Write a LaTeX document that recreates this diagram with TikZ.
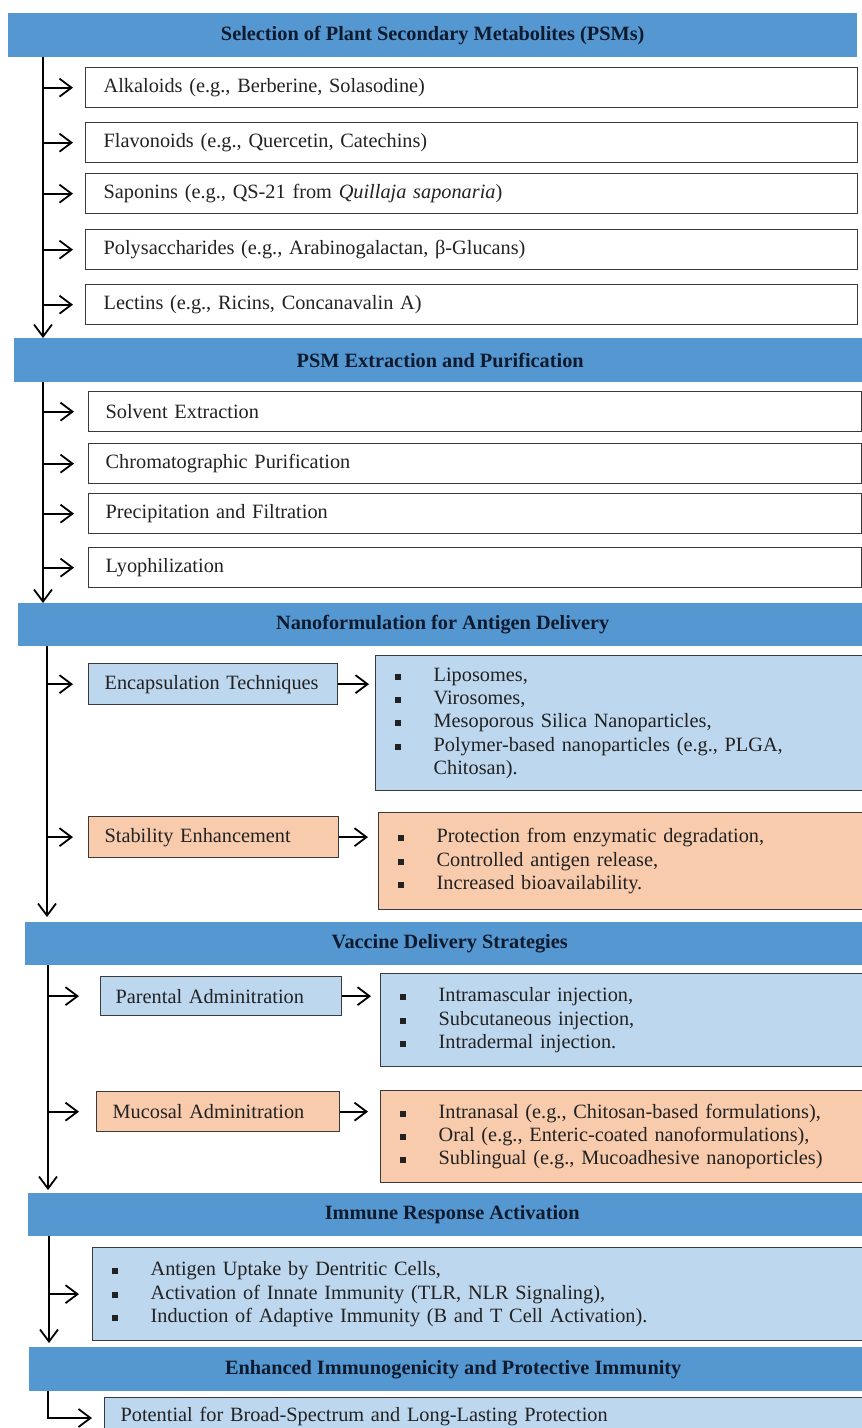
\documentclass[tikz,border=0pt]{standalone}
\usepackage{fontspec}
\setmainfont{Liberation Serif}
\usetikzlibrary{arrows.meta}
\frenchspacing

\definecolor{hdrblue}{HTML}{5597D0}
\definecolor{paleblue}{HTML}{BDD7EE}
\definecolor{peach}{HTML}{F8CBAD}
\definecolor{navy}{HTML}{0E1A2E}
\definecolor{ink}{HTML}{222222}
\definecolor{edge}{HTML}{3A3A3A}

% square bullet followed by the indent of the list text
\newcommand\sqb{\makebox[39pt][l]{\raisebox{1.5pt}{\rule{6pt}{6pt}}}}
\newcommand\hangin{\hspace*{39pt}}

\tikzset{
  hdr/.style={fill=hdrblue, draw=none, anchor=north west, inner sep=0pt,
    font=\bfseries\fontsize{20.3}{24}\selectfont, text=navy},
  bodyfont/.style={font=\frenchspacing\fontsize{20.3}{23.3}\selectfont, text=ink},
  itembox/.style={draw=edge, line width=1.3pt, anchor=north west,
    inner xsep=0pt, inner ysep=1pt, align=left, bodyfont},
  pbox/.style n args={3}{itembox, text width=#1pt, minimum height=#2pt,
    execute at begin node={\hspace*{#3pt}}},
  listbox/.style 2 args={draw=edge, line width=1.3pt, anchor=north west,
    inner xsep=19pt, inner ysep=1pt, align=left, bodyfont,
    text width=#1pt, minimum height=#2pt},
  arr/.style={draw=black, line width=1.8pt,
    -{Straight Barb[length=12pt,width=18pt]}},
}

\begin{document}
\begin{tikzpicture}[x=1pt,y=-1pt]
\useasboundingbox (0,0) rectangle (862,1428);
\clip (0,0) rectangle (862,1428);
\fill[white] (0,0) rectangle (862,1428);

% ---------- Section 1 ----------
\node[hdr, minimum width=849pt, minimum height=44pt] (h1) at (8,13)
  {Selection of Plant Secondary Metabolites (PSMs)};
\node[pbox={772}{40}{18}, fill=white] (a1) at (85,67)
  {Alkaloids (e.g., Berberine, Solasodine)};
\node[pbox={772}{40}{18}, fill=white] (a2) at (85,122)
  {Flavonoids (e.g., Quercetin, Catechins)};
\node[pbox={772}{40}{18}, fill=white] (a3) at (85,173)
  {Saponins (e.g., QS-21 from \textit{Quillaja saponaria})};
\node[pbox={772}{40}{18}, fill=white] (a4) at (85,229)
  {Polysaccharides (e.g., Arabinogalactan, β-Glucans)};
\node[pbox={772}{40}{18}, fill=white] (a5) at (85,284)
  {Lectins (e.g., Ricins, Concanavalin A)};

% ---------- Section 2 ----------
\node[hdr, minimum width=852pt, minimum height=44pt] (h2) at (14,338)
  {PSM Extraction and Purification};
\node[pbox={773}{40}{17}, fill=white] (b1) at (88,391) {Solvent Extraction};
\node[pbox={773}{40}{17}, fill=white] (b2) at (88,443) {Chromatographic Purification};
\node[pbox={773}{40}{17}, fill=white] (b3) at (88,493) {Precipitation and Filtration};
\node[pbox={773}{40}{17}, fill=white] (b4) at (88,547) {Lyophilization};

% ---------- Section 3 ----------
\node[hdr, minimum width=849pt, minimum height=43pt] (h3) at (18,603)
  {Nanoformulation for Antigen Delivery};
\node[pbox={249}{41}{16}, fill=paleblue] (c1) at (88,663) {Encapsulation Techniques};
\node[listbox={457}{135}, fill=paleblue] (c1l) at (375,655)
  {\sqb Liposomes,\\
   \sqb Virosomes,\\
   \sqb Mesoporous Silica Nanoparticles,\\
   \sqb Polymer-based nanoparticles (e.g., PLGA,\\
   \hangin Chitosan).};
\node[pbox={250}{41}{16}, fill=peach] (c2) at (88,816) {Stability Enhancement};
\node[listbox={454}{97}, fill=peach] (c2l) at (378,812)
  {\sqb Protection from enzymatic degradation,\\
   \sqb Controlled antigen release,\\
   \sqb Increased bioavailability.};

% ---------- Section 4 ----------
\node[hdr, minimum width=849pt, minimum height=43pt] (h4) at (25,922)
  {Vaccine Delivery Strategies};
\node[pbox={241}{39}{15}, fill=paleblue] (d1) at (100,976) {Parental Adminitration};
\node[listbox={452}{93}, fill=paleblue] (d1l) at (380,973)
  {\sqb Intramascular injection,\\
   \sqb Subcutaneous injection,\\
   \sqb Intradermal injection.};
\node[pbox={243}{40}{16}, fill=peach] (d2) at (96,1091) {Mucosal Adminitration};
\node[listbox={452}{92}, fill=peach] (d2l) at (380,1090)
  {\sqb Intranasal (e.g., Chitosan-based formulations),\\
   \sqb Oral (e.g., Enteric-coated nanoformulations),\\
   \sqb Sublingual (e.g., Mucoadhesive nanoporticles)};

% ---------- Section 5 ----------
\node[hdr, minimum width=848pt, minimum height=43pt] (h5) at (28,1193)
  {Immune Response Activation};
\node[listbox={740}{93}, fill=paleblue] (e1) at (92,1247)
  {\sqb Antigen Uptake by Dentritic Cells,\\
   \sqb Activation of Innate Immunity (TLR, NLR Signaling),\\
   \sqb Induction of Adaptive Immunity (B and T Cell Activation).};

% ---------- Section 6 ----------
\node[hdr, minimum width=848pt, minimum height=44pt] (h6) at (29,1347)
  {Enhanced Immunogenicity and Protective Immunity};
\node[pbox={770}{38}{16}, fill=paleblue] (f1) at (104,1397)
  {Potential for Broad-Spectrum and Long-Lasting Protection};

% ---------- spines and connectors ----------
\coordinate (s1) at (43,57);
\coordinate (s2) at (43,382);
\coordinate (s3) at (47,646);
\coordinate (s4) at (48,965);
\coordinate (s5) at (49,1236);
\coordinate (s6) at (48,1391);
\coordinate (s6c) at (48,1418);

\draw[arr] (s1) -- (s1 |- h2.north);
\foreach \n in {a1,a2,a3,a4,a5}
  \draw[arr, shorten >=12pt] (s1 |- \n.west) -- (\n.west);

\draw[arr] (s2) -- (s2 |- h3.north);
\foreach \n in {b1,b2,b3,b4}
  \draw[arr, shorten >=14pt] (s2 |- \n.west) -- (\n.west);

\draw[arr] (s3) -- ([yshift=5pt]s3 |- h4.north);
\draw[arr, shorten >=15pt] (s3 |- c1.west) -- (c1.west);
\draw[arr, shorten >=15pt] (s3 |- c2.west) -- (c2.west);
\draw[arr, shorten >=6pt] (c1.east) -- (c1.east -| c1l.west);
\draw[arr, shorten >=10pt] (c2.east) -- (c2.east -| c2l.west);

\draw[arr] (s4) -- ([yshift=3pt]s4 |- h5.north);
\draw[arr, shorten >=21pt] (s4 |- d1.west) -- (d1.west);
\draw[arr, shorten >=17pt] (s4 |- d2.west) -- (d2.west);
\draw[arr, shorten >=9pt] (d1.east) -- (d1.east -| d1l.west);
\draw[arr, shorten >=12pt] (d2.east) -- (d2.east -| d2l.west);

\draw[arr] (s5) -- ([yshift=4pt]s5 |- h6.north);
\draw[arr, shorten >=13pt] (s5 |- e1.west) -- (e1.west);

\draw[arr, shorten >=12pt] (s6) -- (s6c) -- (s6c -| f1.west);
\end{tikzpicture}
\end{document}
